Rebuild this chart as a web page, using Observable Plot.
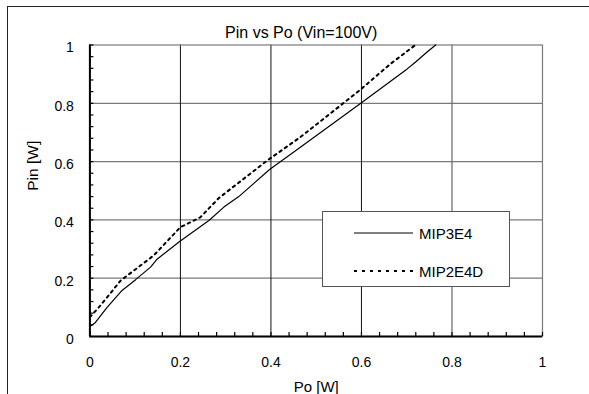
<!DOCTYPE html>
<html>
<head>
<meta charset="utf-8">
<script src="https://cdn.jsdelivr.net/npm/d3@7"></script>
<script src="https://cdn.jsdelivr.net/npm/@observablehq/plot@0.6"></script>
<style>
  html, body { margin: 0; padding: 0; background: white; overflow: hidden; }
  #wrap { position: relative; width: 589px; height: 394px; overflow: hidden; background: white; }
  #frame { position: absolute; left: 7px; top: 6px; width: 700px; height: 500px; border-left: 1.5px solid #222; border-top: 1.5px solid #222; }
  #chart { position: absolute; left: 0; top: 0; }
  #chart svg { background: transparent !important; }
  #legend { position: absolute; left: 322px; top: 211px; width: 188px; height: 76px; border: 1px solid #555; background: white; box-sizing: border-box; font: 15px "Liberation Sans", Arial, sans-serif; }
  .row { position: absolute; left: 0; height: 16px; display: flex; align-items: center; }
  .row svg { display: block; }
  .row span { margin-left: 5px; }
</style>
</head>
<body>
<div id="wrap">
  <div id="frame"></div>
  <div id="chart"></div>
  <div id="legend"></div>
</div>
<script>
// ---- data ----
const seriesNames = ["MIP3E4", "MIP2E4D"];
const po_MIP3E4  = [0, 0.011, 0.038, 0.071, 0.101, 0.134, 0.149, 0.199, 0.263, 0.296, 0.329, 0.397, 0.465, 0.600, 0.701, 0.719, 0.745, 0.764];
const pin_MIP3E4 = [0.034, 0.046, 0.100, 0.158, 0.195, 0.238, 0.266, 0.327, 0.398, 0.444, 0.480, 0.573, 0.649, 0.802, 0.918, 0.941, 0.976, 1.000];
const po_MIP2E4D  = [0, 0.023, 0.068, 0.097, 0.141, 0.200, 0.244, 0.285, 0.392, 0.465, 0.594, 0.664, 0.719];
const pin_MIP2E4D = [0.066, 0.106, 0.192, 0.226, 0.278, 0.375, 0.409, 0.475, 0.604, 0.684, 0.842, 0.935, 1.000];
const xTicks = [0, 0.2, 0.4, 0.6, 0.8, 1];
const yTicks = [0, 0.2, 0.4, 0.6, 0.8, 1];
const minorTicks = d3.range(0, 1.0001, 0.04).map(d => +d.toFixed(2));
const titleText = "Pin vs Po (Vin=100V)";
const xLabel = "Po [W]";
const yLabel = "Pin [W]";

const s1 = po_MIP3E4.map((x, i) => ({x, y: pin_MIP3E4[i]}));
const s2 = po_MIP2E4D.map((x, i) => ({x, y: pin_MIP2E4D[i]}));
const fmt = d => String(+d.toFixed(1));

const chart = Plot.plot({
  width: 589,
  height: 394,
  marginLeft: 89.4,
  marginRight: 47,
  marginTop: 44.5,
  marginBottom: 58,
  style: {fontFamily: "'Liberation Sans', Arial, sans-serif", fontSize: "14px", color: "#000", background: "transparent", overflow: "visible"},
  x: {domain: [0, 1]},
  y: {domain: [0, 1]},
  marks: [
    Plot.gridY(yTicks.slice(1, 5), {stroke: "#7a7a7a", strokeOpacity: 1, strokeWidth: 1.2}),
    Plot.gridX([0.2, 0.4, 0.6], {stroke: "#111", strokeOpacity: 1, strokeWidth: 1}),
    Plot.gridX([0.8], {stroke: "#666", strokeOpacity: 1, strokeWidth: 1.2}),
    Plot.frame({stroke: "#7a7a7a", strokeWidth: 1.2}),
    Plot.axisX({ticks: minorTicks, tickSize: 4, dy: -4, tickFormat: () => "", label: null, stroke: "#000", strokeWidth: 1.2}),
    Plot.axisY({ticks: minorTicks, tickSize: 4, dx: 4, tickFormat: () => "", label: null, stroke: "#000", strokeWidth: 1.2}),
    Plot.axisX({ticks: xTicks, tickSize: 0, tickPadding: 21, tickFormat: fmt, label: null, fontSize: 14}),
    Plot.axisY({ticks: yTicks, tickSize: 0, tickPadding: 16, tickFormat: fmt, label: null, fontSize: 14, dy: 3}),
    Plot.ruleX([0], {stroke: "#000", strokeWidth: 2}),
    Plot.ruleY([0], {stroke: "#000", strokeWidth: 2}),
    Plot.line(s1, {x: "x", y: "y", stroke: "#000", strokeWidth: 1.2}),
    Plot.line(s2, {x: "x", y: "y", stroke: "#000", strokeWidth: 2, strokeDasharray: "2.5,4"}),
    Plot.text([titleText], {frameAnchor: "top", dx: -15, dy: -12, lineAnchor: "middle", fontSize: 16, text: d => d}),
    Plot.text([xLabel], {frameAnchor: "bottom", dy: 51, lineAnchor: "middle", fontSize: 15, text: d => d}),
    Plot.text([yLabel], {frameAnchor: "left", dx: -57, rotate: -90, lineAnchor: "middle", fontSize: 15.5, text: d => d})
  ]
});
document.getElementById("chart").appendChild(chart);

// legend
const legend = document.getElementById("legend");
const styles = [{dash: null, w: 1.2}, {dash: "3,5", w: 2}];
seriesNames.forEach((name, i) => {
  const row = document.createElement("div");
  row.className = "row";
  row.style.left = "31px";
  row.style.top = (i === 0 ? 13 : 51) + "px";
  const st = styles[i];
  row.innerHTML = `<svg width="60" height="6"><line x1="0" x2="59" y1="3" y2="3" stroke="#000" stroke-width="${st.w}" ${st.dash ? `stroke-dasharray="${st.dash}"` : ""}/></svg><span>${name}</span>`;
  legend.appendChild(row);
});
</script>
</body>
</html>
